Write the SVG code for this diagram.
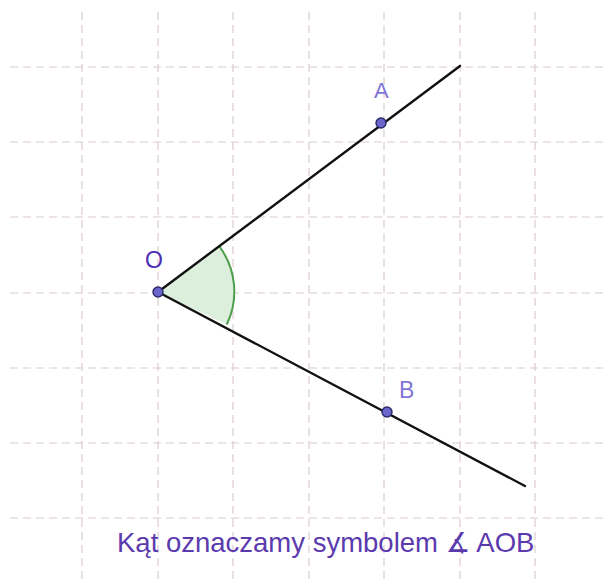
<svg xmlns="http://www.w3.org/2000/svg" width="604" height="579" viewBox="0 0 604 579">
<style>
.grid{stroke:#dccccc;stroke-width:1.2;stroke-dasharray:8 5;fill:none}
.ray{stroke:#111;stroke-width:2.4;fill:none;stroke-linecap:round}
.pt{fill:#6a66cc;stroke:#2a2a66;stroke-width:1.4}
.lbl{font-family:"Liberation Sans",Arial,sans-serif;fill:#8275d6}
</style>
<rect width="604" height="579" fill="#fff"/>
<g id="grid">
<path class="grid" d="M10 67H604M10 142H604M10 217H604M10 293H604M10 368H604M10 443H604M10 518H604"/>
<path class="grid" d="M82 12V579M158 12V579M233 12V579M309 12V579M384 12V579M460 12V579M535 12V579"/>
</g>
<g id="angle">
<path d="M158 292 L219.5 246.5 A76 76 0 0 1 226.8 324.5 Z" fill="#dcefdc" stroke="none"/>
<path d="M219.5 246.5 A76 76 0 0 1 226.8 324.5" fill="none" stroke="#4e9e4e" stroke-width="2"/>
</g>
<g id="connectors">
<line class="ray" x1="158" y1="292" x2="460" y2="66"/>
<line class="ray" x1="158" y1="292" x2="525" y2="486"/>
</g>
<g id="O">
<circle class="pt" cx="158" cy="292" r="5"/>
<text class="lbl" x="154" y="268" font-size="23" text-anchor="middle" style="fill:#4d2db4">O</text>
</g>
<g id="A">
<circle class="pt" cx="381" cy="123" r="5"/>
<text class="lbl" x="374" y="98" font-size="22">A</text>
</g>
<g id="B">
<circle class="pt" cx="387" cy="412" r="5"/>
<text class="lbl" x="399" y="398" font-size="23">B</text>
</g>
<text x="117" y="552" font-family="'Liberation Sans',Arial,'DejaVu Sans',sans-serif" font-size="27.5" fill="#5b3aae">Kąt oznaczamy symbolem ∡ AOB</text>
</svg>
